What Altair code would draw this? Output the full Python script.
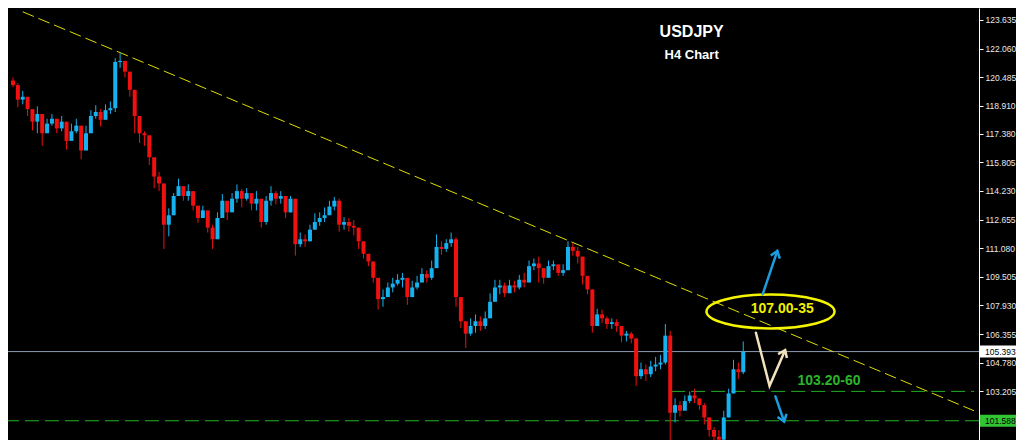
import math
import altair as alt
import pandas as pd

# ---------------- data (USDJPY H4) ----------------
first_open = 120.30
close = [120.05, 119.25, 119.41, 118.73, 118.04, 118.46, 117.40, 117.93, 118.20, 117.67,
         118.04, 116.98, 117.51, 117.82, 116.45, 117.40, 118.35, 118.57, 118.14, 118.67,
         118.78, 121.32, 121.38, 120.79, 119.79, 118.35, 117.40, 117.29, 116.08, 115.02,
         114.64, 112.37, 112.89, 113.95, 114.49, 113.95, 114.22, 113.42, 112.74, 113.16,
         112.21, 111.57, 112.74, 113.69, 113.05, 113.80, 114.22, 113.80, 114.11, 113.53,
         113.80, 112.52, 113.69, 114.11, 113.80, 113.95, 113.05, 113.80, 111.30, 111.57,
         111.46, 112.10, 112.52, 112.74, 112.89, 113.37, 113.69, 112.37, 112.52, 112.31,
         112.21, 111.46, 110.77, 110.35, 109.45, 108.28, 108.39, 108.92, 109.13, 109.34,
         109.45, 108.39, 108.92, 109.19, 109.66, 109.45, 109.98, 111.15, 111.04, 111.36,
         111.57, 108.39, 107.06, 106.38, 106.80, 107.06, 106.80, 107.22, 108.13, 108.92,
         109.03, 108.60, 109.03, 108.92, 109.34, 109.19, 110.09, 110.24, 109.98, 109.45,
         110.09, 110.19, 109.72, 109.87, 111.15, 110.93, 110.62, 109.56, 108.81, 106.80,
         107.44, 107.22, 106.91, 107.01, 106.80, 106.27, 106.38, 106.11, 104.04, 104.42,
         104.15, 104.57, 104.68, 104.79, 106.27, 102.03, 102.45, 102.14, 102.67, 102.98,
         102.82, 102.45, 101.77, 101.08, 100.71, 100.55, 101.77, 103.09, 104.42, 104.26,
         105.39]
high = [120.47, 120.16, 119.73, 119.25, 118.67, 118.88, 118.35, 118.20, 118.46, 118.14,
        118.35, 117.51, 117.93, 118.20, 117.40, 117.82, 118.67, 118.94, 118.73, 118.99,
        119.15, 121.53, 121.80, 121.32, 120.69, 119.79, 118.04, 117.51, 116.98, 115.70,
        115.28, 113.80, 113.27, 114.11, 114.91, 114.49, 114.59, 113.95, 113.32, 113.42,
        112.89, 112.37, 113.05, 114.06, 113.53, 114.11, 114.59, 114.33, 114.38, 113.95,
        114.22, 113.05, 113.95, 114.49, 114.22, 114.22, 113.69, 113.95, 113.80, 111.94,
        111.84, 112.37, 113.00, 113.05, 113.32, 113.69, 113.90, 113.80, 112.79, 112.74,
        112.63, 112.10, 111.41, 110.77, 110.24, 109.29, 108.81, 109.19, 109.45, 109.66,
        109.72, 109.34, 109.29, 109.56, 109.98, 109.87, 110.40, 111.84, 111.46, 111.57,
        111.94, 111.68, 108.39, 107.06, 107.22, 107.44, 107.33, 107.60, 108.60, 109.34,
        109.34, 109.19, 109.34, 109.29, 109.61, 109.72, 110.40, 110.51, 110.62, 109.98,
        110.40, 110.40, 110.09, 110.19, 111.46, 111.36, 111.15, 110.40, 109.19, 108.81,
        107.75, 107.70, 107.33, 107.22, 107.17, 106.80, 106.53, 106.48, 106.16, 104.79,
        104.68, 104.89, 105.10, 105.21, 106.91, 106.53, 102.82, 102.67, 102.98, 103.20,
        103.35, 102.77, 102.56, 101.77, 101.24, 101.08, 102.14, 103.35, 104.94, 104.79,
        105.95]
low = [119.94, 118.83, 118.99, 118.35, 117.56, 117.40, 116.71, 117.51, 117.82, 117.40,
       117.51, 116.50, 117.03, 117.40, 115.97, 116.76, 117.82, 118.20, 117.77, 118.30,
       118.46, 118.57, 121.00, 120.47, 119.41, 117.40, 116.87, 116.71, 115.65, 114.38,
       114.22, 111.04, 111.73, 113.16, 114.11, 113.69, 113.69, 113.16, 112.47, 112.89,
       111.94, 111.04, 111.99, 113.00, 112.63, 113.27, 113.58, 113.32, 113.69, 113.16,
       113.16, 112.21, 112.37, 113.42, 113.48, 113.53, 112.74, 113.05, 110.67, 111.15,
       111.15, 111.46, 112.10, 112.31, 112.52, 113.00, 113.16, 111.99, 112.10, 111.99,
       111.78, 111.04, 110.51, 110.09, 109.19, 107.70, 107.86, 108.39, 108.65, 109.03,
       108.92, 107.97, 108.39, 108.81, 109.24, 109.19, 109.34, 110.77, 110.72, 110.88,
       111.15, 107.86, 106.69, 105.58, 106.27, 106.43, 106.53, 106.64, 107.60, 108.39,
       108.55, 108.39, 108.76, 108.65, 108.81, 108.92, 109.72, 109.87, 109.19, 109.13,
       109.72, 109.87, 109.56, 109.56, 109.87, 110.67, 110.24, 109.08, 108.55, 106.43,
       106.91, 106.96, 106.64, 106.64, 106.48, 105.90, 105.95, 105.85, 103.51, 103.88,
       103.78, 103.99, 104.31, 104.42, 104.68, 99.91, 101.50, 101.82, 102.29, 102.56,
       102.56, 102.19, 101.39, 100.71, 100.18, 100.02, 100.44, 101.77, 103.09, 103.88,
       104.15]

tick_values = [123.635, 122.060, 120.485, 118.910, 117.380, 115.805, 114.230, 112.655,
               111.080, 109.505, 107.930, 106.355, 104.780, 103.205]
current_price = 105.393
support_level = 101.588
zone_level = 103.205
zone_start = 135.2
trend_x = [2.0, 197.4]
trend_p = [124.08, 102.14]

title_text = ["USDJPY", "H4 Chart"]
title_x = [139.4, 139.4]
title_p = [122.97, 121.69]

ellipse_x, ellipse_p = 155.6, 107.60
target_text, target_x, target_p = "107.00-35", 158.0, 107.75
zone_text, zone_text_x, zone_text_p = "103.20-60", 167.6, 103.78

blue_up_x, blue_up_p = [154.0, 157.0], [108.55, 110.93]
cream_x, cream_p = [152.6, 155.4, 158.6], [106.43, 103.51, 105.47]
blue_dn_x, blue_dn_p = [156.6, 158.4], [102.93, 101.55]

# ---------------- layout ----------------
W, H = 971, 432
X_DOM = [0, 197.4]
Y_DOM = [100.53, 124.29]
px_x = W / (X_DOM[1] - X_DOM[0])
px_y = H / (Y_DOM[1] - Y_DOM[0])

opens = [first_open] + close[:-1]
candles = pd.DataFrame({"i": list(range(len(close))), "open": opens, "close": close,
                        "high": high, "low": low})
candles["dir"] = ["up" if c >= o else "down" for o, c in zip(opens, close)]

XS = alt.Scale(domain=X_DOM, nice=False, zero=False)
YS = alt.Scale(domain=Y_DOM, nice=False, zero=False)
YAX = alt.Axis(orient="right", values=tick_values, format=".3f", title=None, grid=False,
               domainColor="#ffffff", domainWidth=1, tickColor="#ffffff", tickSize=4,
               labelColor="#e8e8e8", labelFont="Liberation Sans", labelFontSize=8.5,
               labelPadding=2, labelFlush=False, labelOverlap=False)


def X(f):
    return alt.X(f, type="quantitative", scale=XS, axis=None, title=None)


def Y(f):
    return alt.Y(f, type="quantitative", scale=YS, axis=YAX, title=None)


col = alt.Color("dir:N", scale=alt.Scale(domain=["up", "down"], range=["#16b2f0", "#f01010"]),
                legend=None)

base = alt.Chart(candles)
wicks = base.mark_rule(strokeWidth=1, clip=True).encode(x=X("i"), y=Y("low"), y2="high", color=col)
bodies = base.mark_bar(size=4, clip=True).encode(x=X("i"), y=Y("open"), y2="close", color=col)

# horizontal levels
price_line = alt.Chart(pd.DataFrame({"p": [current_price]})).mark_rule(
    color="#8c9db2", strokeWidth=1).encode(y=Y("p"))
support_line = alt.Chart(pd.DataFrame({"p": [support_level]})).mark_rule(
    color="#22b322", strokeWidth=1, strokeDash=[14, 6]).encode(y=Y("p"))
zone_line = alt.Chart(pd.DataFrame({"x": [zone_start], "x2": [X_DOM[1]], "p": [zone_level]})).mark_rule(
    color="#22b322", strokeWidth=1, strokeDash=[14, 6]).encode(x=X("x"), x2="x2", y=Y("p"))

trend = alt.Chart(pd.DataFrame({"x": trend_x, "p": trend_p})).mark_line(
    color="#dede00", strokeWidth=1, strokeDash=[12, 5], clip=True).encode(x=X("x"), y=Y("p"))

# titles
titles = pd.DataFrame({"t": title_text, "x": title_x, "p": title_p, "s": [16, 13]})
title_marks = alt.Chart(titles).mark_text(color="#ffffff", font="Liberation Sans",
                                          fontWeight="bold").encode(
    x=X("x"), y=Y("p"), text="t:N", size=alt.Size("s:Q", scale=None, legend=None))

# ellipse + target text
ellipse_path = "M -1 0 A 1 0.265 0 1 0 1 0 A 1 0.265 0 1 0 -1 0"
ellipse = alt.Chart(pd.DataFrame({"x": [ellipse_x], "p": [ellipse_p]})).mark_point(
    shape=ellipse_path, size=128 * 128, filled=False, stroke="#f5f500", strokeWidth=2.5,
    opacity=1).encode(x=X("x"), y=Y("p"))
target = alt.Chart(pd.DataFrame({"t": [target_text], "x": [target_x], "p": [target_p]})).mark_text(
    color="#f0f000", font="Liberation Sans", fontWeight="bold", fontSize=14).encode(
    x=X("x"), y=Y("p"), text="t:N")
zone_label = alt.Chart(pd.DataFrame({"t": [zone_text], "x": [zone_text_x], "p": [zone_text_p]})).mark_text(
    color="#2bb52b", font="Liberation Sans", fontWeight="bold", fontSize=14).encode(
    x=X("x"), y=Y("p"), text="t:N")


# arrows
def angle(x0, p0, x1, p1):
    dx = (x1 - x0) * px_x
    dy = -(p1 - p0) * px_y
    a = math.degrees(math.atan2(dx, -dy))
    return a % 360


chevron = "M -0.6 0.8 L 0 0 L 0.6 0.8"


def arrow(xs, ps, color):
    d = pd.DataFrame({"x": xs, "p": ps, "o": list(range(len(xs)))})
    shaft = alt.Chart(d).mark_line(color=color, strokeWidth=2.5, strokeCap="round").encode(
        x=X("x"), y=Y("p"), order="o:Q")
    head_df = pd.DataFrame({"x": [xs[-1]], "p": [ps[-1]]})
    head = alt.Chart(head_df).mark_point(
        shape=chevron, size=256, filled=False, stroke=color, strokeWidth=2.5, opacity=1,
        angle=angle(xs[-2], ps[-2], xs[-1], ps[-1])).encode(x=X("x"), y=Y("p"))
    return shaft + head


arrows = arrow(blue_up_x, blue_up_p, "#1a9ee0") + arrow(cream_x, cream_p, "#f2e2bd") + \
    arrow(blue_dn_x, blue_dn_p, "#1a9ee0")

# price boxes on the axis
boxes = pd.DataFrame({"p": [current_price, support_level],
                      "lo": [current_price - 0.33, support_level - 0.33],
                      "hi": [current_price + 0.33, support_level + 0.33],
                      "t": ["105.393", "101.588"],
                      "fill": ["#ffffff", "#33c433"]})
box_rect = alt.Chart(boxes).mark_rect().encode(
    x=alt.value(W + 1), x2=alt.value(W + 37), y=Y("lo"), y2="hi",
    fill=alt.Fill("fill:N", scale=None, legend=None))
box_text = alt.Chart(boxes).mark_text(align="left", baseline="middle", color="#000000",
                                      font="Liberation Sans", fontSize=8.5).encode(
    x=alt.value(W + 6), y=Y("p"), text="t:N")

chart = alt.layer(
    price_line, support_line, zone_line, trend, wicks, bodies, ellipse, target, zone_label,
    arrows, title_marks, box_rect, box_text
).properties(
    width=W, height=H,
    autosize=alt.AutoSizeParams(type="none"),
    padding={"left": 0, "top": 0, "right": 37, "bottom": 0},
    background="#000000",
).configure_view(stroke=None)

chart.save("out.html", embed_options={"renderer": "svg", "actions": False})
